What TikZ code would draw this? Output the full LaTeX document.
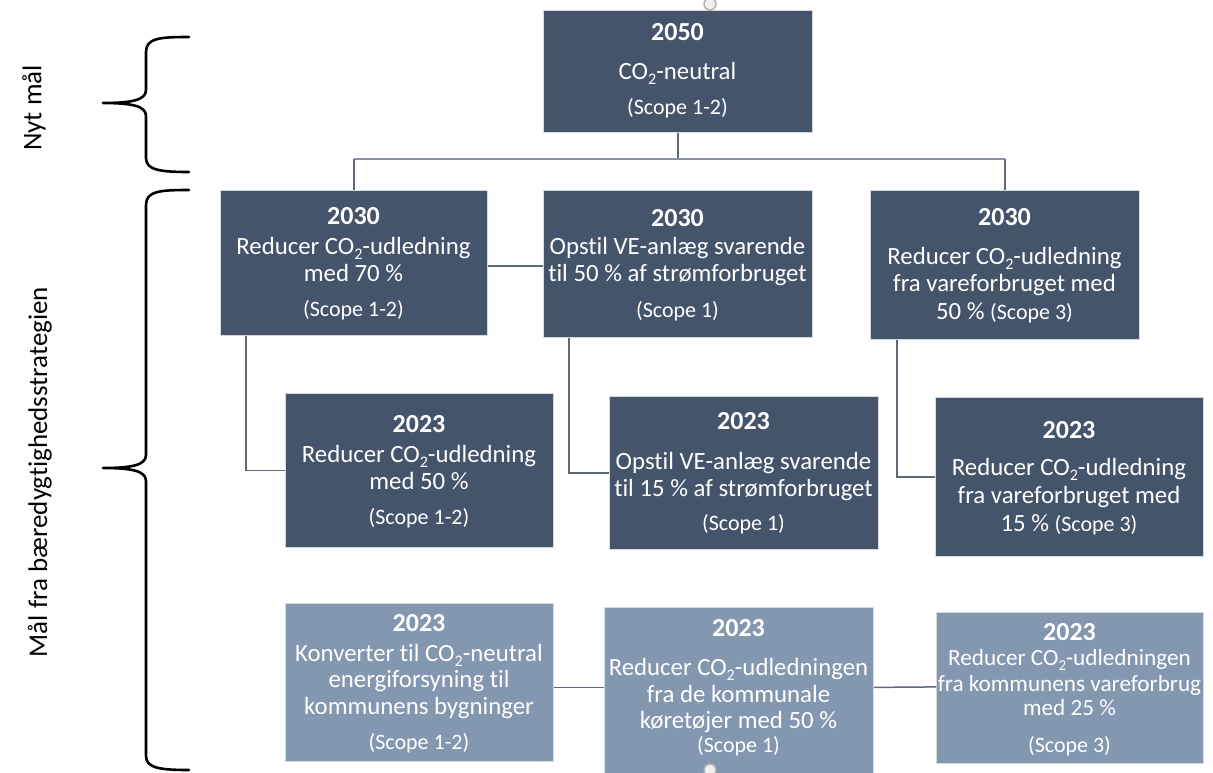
\documentclass[tikz,border=0pt]{standalone}
\usepackage{fontspec}
\setmainfont{Carlito}[Ligatures=NoCommon]
\usetikzlibrary{calc}
\definecolor{dark}{HTML}{44546A}
\definecolor{light}{HTML}{8497B0}
\definecolor{boxedge}{HTML}{D6DAE0}
\definecolor{connc}{HTML}{5F6878}
\definecolor{busc}{HTML}{8A929C}
\newcommand{\cotwo}{CO\raisebox{-0.22em}{\scalebox{0.65}{2}}}
\tikzset{
 dbox/.style={rectangle, fill=dark, draw=boxedge, line width=0.8pt, anchor=north west, inner sep=0pt},
 lbox/.style={dbox, fill=light},
 yr/.style={inner sep=0pt, text=white, font=\fontsize{26}{30}\selectfont\bfseries, text height=17.5pt, text depth=0pt},
 tx/.style={inner sep=0pt, text=white, font=\fontsize{24.8}{29}\selectfont, text height=16.5pt, text depth=0pt},
 txs/.style={inner sep=0pt, text=white, font=\fontsize{23.2}{27}\selectfont, text height=15.5pt, text depth=0pt},
 sc/.style={inner sep=0pt, text=white, font=\fontsize{22}{26}\selectfont, text height=14.8pt, text depth=0pt},
 conn/.style={draw=connc, line width=1.5pt},
 bus/.style={draw=busc, line width=2pt},
 brace/.style={draw=black, line width=2.6pt, line cap=round, line join=round},
 lbl/.style={inner sep=0pt, rotate=90, font=\fontsize{27}{32}\selectfont},
 handle/.style={circle, minimum size=12pt, inner sep=0pt, fill=gray!12, draw=gray!60, line width=1.5pt}
}
\begin{document}
\begin{tikzpicture}[x=1pt,y=-1pt]
\useasboundingbox (0,0) rectangle (1213,772);
\fill[white] (0,0) rectangle (1213,772);

% boxes
\node[dbox, minimum width=269pt, minimum height=122pt] (top) at (543,10) {};
\node[dbox, minimum width=267pt, minimum height=145pt] (A) at (220,190) {};
\node[dbox, minimum width=269pt, minimum height=147pt] (B) at (543,190) {};
\node[dbox, minimum width=269pt, minimum height=149pt] (C) at (870,190) {};
\node[dbox, minimum width=268pt, minimum height=154pt] (D) at (285,393) {};
\node[dbox, minimum width=269pt, minimum height=153pt] (E) at (609,396) {};
\node[dbox, minimum width=268pt, minimum height=159pt] (F) at (935,397) {};
\node[lbox, minimum width=268pt, minimum height=158pt] (G) at (285,603) {};
\node[lbox, minimum width=269pt, minimum height=166pt] (H) at (604,607) {};
\node[lbox, minimum width=267pt, minimum height=151pt] (I) at (936,612) {};

% handles (partially visible)
\begin{scope}
\clip (0,0) rectangle (1213,772);
\node[handle] (h1) at (710,4) {};
\node[handle] (h2) at (710,770) {};
\end{scope}

% connectors
\coordinate (busy) at (0,159);
\draw[conn] (top.south) -- (top.south |- busy);
\draw[bus] (A.north |- busy) -- (C.north |- busy);
\draw[conn] (A.north |- busy) -- (A.north);
\draw[conn] (C.north |- busy) -- (C.north);
\draw[conn] ([yshift=-3pt]A.east) -- ([yshift=-3pt]A.east -| B.west);
\draw[conn] ([xshift=26pt]A.south west) |- (D.west);
\draw[conn] ([xshift=26pt]B.south west) |- (E.west);
\draw[conn] ([xshift=27pt]C.south west) |- (F.west);
\draw[conn] ([yshift=-5pt]G.east) -- ([yshift=3pt]H.west);
\draw[conn] ([yshift=3pt]H.east) -- ([yshift=1pt]I.west);

% braces
\draw[brace] (189,37) .. controls (160,37) and (146,38) .. (146,52) -- (146,90)
  .. controls (146,100) and (132,103) .. (103,103)
  .. controls (132,103) and (146,106) .. (146,116) -- (146,158)
  .. controls (146,170) and (160,172) .. (189,172);
\draw[brace] (189,190) .. controls (160,190) and (146,191) .. (146,205) -- (146,455)
  .. controls (146,465) and (132,468) .. (103,468)
  .. controls (132,468) and (146,471) .. (146,481) -- (146,756)
  .. controls (146,768) and (160,770) .. (189,770);

% side labels
\node[lbl] (nyt) at (34,108) {Nyt mål};
\node[lbl] (fra) at (40,472) {Mål fra bæredygtighedsstrategien};

% top box text
\node[yr] (t1) at (677.5,32) {2050};
\node[tx] (t2) at (677.5,71) {\cotwo-neutral};
\node[sc] (t3) at (677.5,107) {(Scope 1-2)};

% A
\node[yr] (a1) at (353.5,216) {2030};
\node[tx] (a2) at (353.5,246) {Reducer \cotwo-udledning};
\node[tx] (a3) at (353.5,273) {med 70 \%};
\node[sc] (a4) at (353.5,309) {(Scope 1-2)};

% B
\node[yr] (b1) at (677.5,218) {2030};
\node[tx] (b2) at (677.5,246) {Opstil VE-anlæg svarende};
\node[tx] (b3) at (677.5,273) {til 50 \% af strømforbruget};
\node[sc] (b4) at (677.5,310) {(Scope 1)};

% C
\node[yr] (c1) at (1004.5,217) {2030};
\node[tx] (c2) at (1004.5,256) {Reducer \cotwo-udledning};
\node[tx] (c3) at (1004.5,283) {fra vareforbruget med};
\node[tx] (c4) at (1004.5,311) {50 \% {\fontsize{22}{26}\selectfont(Scope 3)}};

% D
\node[yr] (d1) at (419,424) {2023};
\node[tx] (d2) at (419,454) {Reducer \cotwo-udledning};
\node[tx] (d3) at (419,481) {med 50 \%};
\node[sc] (d4) at (419,517) {(Scope 1-2)};

% E
\node[yr] (e1) at (743.5,421) {2023};
\node[tx] (e2) at (743.5,461) {Opstil VE-anlæg svarende};
\node[tx] (e3) at (743.5,488) {til 15 \% af strømforbruget};
\node[sc] (e4) at (743.5,523) {(Scope 1)};

% F
\node[yr] (f1) at (1069,430) {2023};
\node[tx] (f2) at (1069,467) {Reducer \cotwo-udledning};
\node[tx] (f3) at (1069,495) {fra vareforbruget med};
\node[tx] (f4) at (1069,523) {15 \% {\fontsize{22}{26}\selectfont(Scope 3)}};

% G
\node[yr] (g1) at (419,623) {2023};
\node[tx] (g2) at (419,653) {Konverter til \cotwo-neutral};
\node[tx] (g3) at (419,679) {energiforsyning til};
\node[tx] (g4) at (419,706) {kommunens bygninger};
\node[sc] (g5) at (419,742) {(Scope 1-2)};

% H
\node[yr] (i1) at (738.5,628) {2023};
\node[tx] (i2) at (738.5,667) {Reducer \cotwo-udledningen};
\node[tx] (i3) at (738.5,694) {fra de kommunale};
\node[tx] (i4) at (738.5,720) {køretøjer med 50 \%};
\node[sc] (i5) at (738.5,745) {(Scope 1)};

% I
\node[yr] (j1) at (1069.5,632) {2023};
\node[txs] (j2) at (1069.5,658) {Reducer \cotwo-udledningen};
\node[txs] (j3) at (1069.5,684) {fra kommunens vareforbrug};
\node[txs] (j4) at (1069.5,708) {med 25 \%};
\node[sc] (j5) at (1069.5,745) {(Scope 3)};
\end{tikzpicture}
\end{document}
